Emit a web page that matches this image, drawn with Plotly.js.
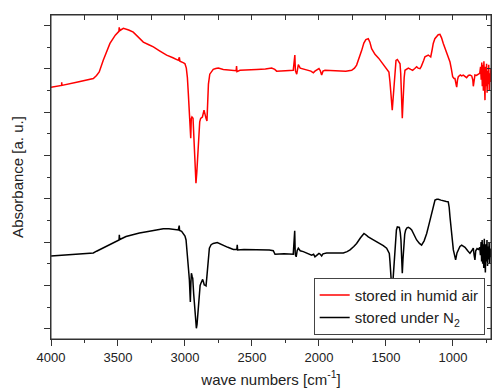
<!DOCTYPE html>
<html>
<head>
<meta charset="utf-8">
<script src="https://cdn.plot.ly/plotly-3.0.1.min.js"></script>
<style>html,body{margin:0;padding:0;background:#fff;overflow:hidden;}#chart{width:493px;height:390px;}</style>
</head>
<body>
<div id="chart"></div>
<script>
// stored in humid air (red)
const wnHumid = [4000,3921,3920,3919,3800,3700,3684,3660,3640,3610,3585,3560,3520,3493,3491,3485,3460,3448,3420,3386,3350,3311,3270,3236,3190,3137,3090,3050,3042,3038,3010,3000,2990,2982,2975,2967,2962,2957,2953,2948,2940,2932,2925,2918,2912,2905,2897,2890,2883,2870,2858,2850,2843,2836,2830,2825,2815,2800,2789,2770,2751,2714,2650,2618,2615,2612,2590,2515,2465,2400,2353,2330,2316,2250,2192,2180,2176,2166,2160,2154,2140,2129,2092,2060,2042,2030,2000,1990,1980,1970,1955,1900,1843,1800,1756,1735,1719,1700,1681,1665,1650,1632,1620,1607,1582,1555,1532,1510,1495,1478,1470,1465,1458,1453,1447,1440,1432,1425,1415,1405,1395,1390,1386,1382,1378,1374,1370,1364,1358,1345,1333,1315,1301,1285,1271,1260,1246,1236,1226,1218,1209,1195,1184,1175,1166,1155,1147,1135,1122,1110,1097,1085,1072,1060,1047,1035,1022,1012,1002,992,985,975,972,966,960,945,935,923,910,898,885,873,860,852,848,843,836,825,811,800,794,789,785,781,777,773,769,765,761,757,753,749,745,741,737,733,729,725,721,717];
const absHumid = [5.58,5.62,5.69,5.62,5.70,5.76,5.78,5.85,5.93,6.20,6.42,6.59,6.78,6.87,6.96,6.89,6.94,6.93,6.90,6.85,6.75,6.62,6.56,6.51,6.42,6.32,6.26,6.20,6.27,6.18,6.14,6.12,6.02,5.80,5.43,5.05,4.89,4.40,4.85,4.89,4.86,4.40,3.80,3.36,3.60,4.10,4.55,4.78,4.86,4.89,5.05,4.90,4.86,4.80,5.30,5.65,5.88,5.96,5.99,6.01,6.02,5.99,5.97,5.96,6.07,5.94,5.97,5.99,5.99,6.00,6.02,5.99,5.95,5.96,5.97,6.32,5.96,5.88,6.05,6.10,6.02,6.01,5.97,5.95,5.91,5.95,6.01,5.96,5.86,5.95,5.97,5.96,5.95,5.95,5.97,6.02,6.09,6.25,6.43,6.60,6.68,6.70,6.62,6.47,6.34,6.25,6.16,6.08,6.01,5.93,5.70,5.43,5.15,5.05,5.30,5.58,6.05,6.20,6.22,6.18,6.12,5.90,5.51,5.10,4.86,5.15,5.51,5.80,5.97,6.00,6.02,5.99,5.97,6.01,6.05,6.02,6.01,6.06,6.12,6.20,6.28,6.31,6.32,6.30,6.28,6.45,6.59,6.70,6.76,6.79,6.80,6.72,6.59,6.48,6.36,6.26,6.16,6.00,5.82,5.78,5.78,5.62,5.58,5.75,5.82,5.86,5.84,5.86,5.83,5.80,5.85,5.86,5.84,5.75,5.60,5.80,5.86,5.85,5.88,5.90,6.05,5.75,6.15,5.60,6.10,5.50,6.18,5.70,5.28,6.05,5.60,6.12,5.45,5.95,5.65,6.10,5.50,5.90,5.70,6.00];

// stored under N2 (black)
const wnN2 = [4000,3900,3800,3700,3684,3660,3634,3600,3560,3520,3492,3490,3487,3440,3386,3340,3286,3230,3162,3120,3087,3050,3043,3040,3025,3012,3000,2992,2985,2980,2973,2967,2962,2960,2956,2952,2946,2942,2935,2928,2920,2915,2910,2905,2899,2893,2887,2881,2874,2868,2862,2856,2848,2843,2838,2833,2826,2818,2805,2789,2759,2740,2714,2680,2639,2613,2610,2607,2560,2515,2440,2370,2341,2328,2260,2192,2181,2177,2170,2163,2154,2140,2117,2080,2055,2040,2030,2015,2000,1990,1980,1970,1943,1880,1818,1790,1768,1740,1719,1690,1664,1650,1632,1594,1545,1520,1495,1480,1475,1470,1465,1459,1455,1450,1440,1435,1430,1422,1415,1400,1393,1388,1383,1378,1373,1368,1360,1353,1343,1333,1320,1308,1290,1271,1250,1234,1215,1196,1178,1159,1145,1134,1120,1109,1090,1072,1050,1035,1028,1022,1010,997,988,980,970,960,948,935,922,910,890,873,860,848,842,836,830,820,810,800,795,790,786,782,778,774,770,766,762,758,754,750,746,742,738,734,730,726,722,718];
const absN2 = [1.68,1.70,1.72,1.74,1.75,1.79,1.83,1.89,1.95,2.01,2.05,2.17,2.06,2.13,2.18,2.21,2.24,2.27,2.31,2.31,2.29,2.28,2.38,2.27,2.25,2.20,2.14,2.05,1.85,1.66,1.35,1.12,0.80,0.62,1.05,1.28,1.20,1.16,0.80,0.43,0.15,0.01,0.10,0.28,0.60,0.89,1.00,1.05,1.10,1.14,1.08,1.01,1.00,0.99,1.15,1.36,1.62,1.86,1.94,1.97,1.99,1.96,1.92,1.88,1.83,1.83,1.94,1.82,1.83,1.83,1.83,1.82,1.80,1.72,1.73,1.72,2.26,1.72,1.66,1.80,1.86,1.80,1.78,1.74,1.70,1.72,1.66,1.70,1.74,1.72,1.68,1.73,1.75,1.75,1.75,1.78,1.82,1.90,1.97,2.10,2.20,2.17,2.12,2.05,1.97,1.92,1.86,1.78,1.74,1.55,1.28,0.95,0.85,1.00,1.51,1.90,2.12,2.28,2.35,2.34,2.22,2.05,1.65,1.28,1.60,1.97,2.18,2.28,2.33,2.34,2.32,2.28,2.17,2.05,1.97,1.93,2.03,2.20,2.42,2.66,2.85,2.97,2.99,2.99,2.97,2.95,2.94,2.93,2.80,2.58,2.20,1.82,1.70,1.59,1.75,1.82,1.90,1.93,1.91,1.88,1.80,1.74,1.80,1.86,1.70,1.59,1.80,1.85,1.83,1.88,1.70,2.00,1.55,2.05,1.50,1.95,1.40,2.08,1.60,1.30,1.95,1.55,2.05,1.45,1.90,1.60,2.00,1.50,1.85,1.65];

const seriesNames = ['stored in humid air', 'stored under N<sub>2</sub>'];
const xTitle = 'wave numbers [cm<sup>-1</sup>]';
const yTitle = 'Absorbance [a. u.]';

const font = 'Arial, "Liberation Sans", sans-serif';
const xr = [4000, 716];
const yr = [-0.238, 7.247];

const ghost = {type: 'scatter', mode: 'lines', showlegend: false, hoverinfo: 'skip',
  line: {color: 'rgba(255,255,255,0)', width: 1}};

const traces = [
  {x: wnHumid, y: absHumid, name: seriesNames[0], type: 'scatter', mode: 'lines',
   line: {color: '#ff0000', width: 1.5}},
  {x: wnN2, y: absN2, name: seriesNames[1], type: 'scatter', mode: 'lines',
   line: {color: '#000000', width: 1.5}},
  Object.assign({x: wnN2, y: absN2, xaxis: 'x2', yaxis: 'y'}, ghost),
  Object.assign({x: wnN2, y: absN2, xaxis: 'x', yaxis: 'y2'}, ghost),
  Object.assign({x: wnN2, y: absN2, xaxis: 'x3', yaxis: 'y'}, ghost),
  Object.assign({x: wnN2, y: absN2, xaxis: 'x', yaxis: 'y3'}, ghost)
];

function tickAxis(extra) {
  return Object.assign({autorange: false, showgrid: false, zeroline: false,
    showline: false, showticklabels: false, tickcolor: '#333', tickwidth: 1, tick0: 0}, extra);
}

const layout = {
  width: 493, height: 390,
  margin: {l: 51, r: 2, t: 15, b: 51},
  paper_bgcolor: '#fff', plot_bgcolor: '#fff',
  font: {family: font, color: '#222', size: 13},
  showlegend: true,
  legend: {x: 0.597, y: 0.013, xanchor: 'left', yanchor: 'bottom',
    bgcolor: '#fff', bordercolor: '#444', borderwidth: 1,
    font: {family: font, size: 15, color: '#222'}, tracegroupgap: 0},
  xaxis: {range: xr, autorange: false, showgrid: false, zeroline: false,
    showline: true, mirror: true, linecolor: '#333', linewidth: 1,
    ticks: 'outside', ticklen: 6, tickcolor: '#333', tickwidth: 1,
    tick0: 0, dtick: 500, tickfont: {size: 13, family: font, color: '#222'},
    title: {text: xTitle, font: {size: 15, family: font, color: '#222'}, standoff: 10}},
  yaxis: {range: yr, autorange: false, showgrid: false, zeroline: false,
    showline: true, mirror: true, linecolor: '#333', linewidth: 1,
    ticks: 'outside', ticklen: 6, tickcolor: '#333', tickwidth: 1,
    tick0: 0, dtick: 1, showticklabels: false,
    title: {text: yTitle, font: {size: 15, family: font, color: '#222'}, standoff: 16}},
  xaxis2: tickAxis({overlaying: 'x', side: 'top', anchor: 'y', range: xr, ticks: 'inside', ticklen: 5, dtick: 250}),
  yaxis2: tickAxis({overlaying: 'y', side: 'right', anchor: 'x', range: yr, ticks: 'inside', ticklen: 4, dtick: 0.5}),
  xaxis3: tickAxis({overlaying: 'x', side: 'bottom', anchor: 'y', range: xr, ticks: 'outside', ticklen: 3, dtick: 250}),
  yaxis3: tickAxis({overlaying: 'y', side: 'left', anchor: 'x', range: yr, ticks: 'outside', ticklen: 3, dtick: 0.5}),
  // plot frame (paper-relative box around the plotting area)
  shapes: [{type: 'rect', xref: 'paper', yref: 'paper', x0: 0, x1: 1, y0: 0, y1: 1,
    line: {color: '#333', width: 1}, fillcolor: 'rgba(0,0,0,0)', layer: 'above'}]
};

Plotly.newPlot('chart', traces, layout, {displayModeBar: false, staticPlot: true});
</script>
</body>
</html>
